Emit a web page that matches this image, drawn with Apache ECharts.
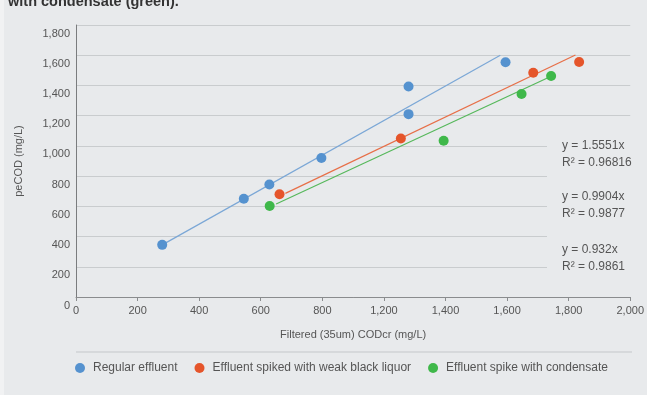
<!DOCTYPE html>
<html>
<head>
<meta charset="utf-8">
<script src="https://cdn.jsdelivr.net/npm/echarts@6/dist/echarts.min.js"></script>
<style>
html,body{margin:0;padding:0;background:#e8eaec;}
#c{width:647px;height:395px;}
</style>
</head>
<body>
<div id="c"></div>
<script>
// Tick labels as printed on the reference (note: the x axis skips "1,000")
const xTickLabels = ['0','200','400','600','800','1,200','1,400','1,600','1,800','2,000'];
const yTickLabels = ['0','200','400','600','800','1,000','1,200','1,400','1,600','1,800'];

const seriesNames = ['Regular effluent','Effluent spiked with weak black liquor','Effluent spike with condensate'];

// [x, y] points
const regularEffluent = [[280,345],[545,650],[628,745],[797,920],[1080,1210],[1080,1393],[1395,1553]];
const weakBlackLiquor = [[661,680],[1055,1049],[1485,1484],[1634,1555]];
const condensate = [[629,602],[1194,1034],[1447,1343],[1543,1463]];

// trendline end points
const regularTrend = [[280,345],[1378,1600]];
const liquorTrend = [[680,686],[1622,1601]];
const condensateTrend = [[650,615],[1545,1462]];

const trendLabels = [
  ['y = 1.5551x','R² = 0.96816'],
  ['y = 0.9904x','R² = 0.9877'],
  ['y = 0.932x','R² = 0.9861']
];
const headingText = 'with condensate (green).';

const pointColors = ['#5592cf','#e5552b','#3fb84a'];
const lineColors = ['#7ba7d6','#e76f48','#56b85b'];
const FONT = '"Liberation Sans", Arial, sans-serif';
const BG = '#e8eaec';

const chart = echarts.init(document.getElementById('c'), null, {renderer:'canvas'});

const scatterData = [regularEffluent, weakBlackLiquor, condensate];
const trendData = [regularTrend, liquorTrend, condensateTrend];

const series = [];
trendData.forEach((d,i)=>{
  series.push({
    type:'line', name: seriesNames[i]+' trend', data:d, symbol:'none', silent:true,
    lineStyle:{color:lineColors[i], width:1.2}, z:2, animation:false
  });
});
scatterData.forEach((d,i)=>{
  series.push({
    type:'scatter', name: seriesNames[i], data:d, symbol:'circle', symbolSize:10,
    itemStyle:{color:pointColors[i], opacity:1}, z:3, animation:false
  });
});

const trendTextY = [146, 197, 250];
const graphics = [
  {type:'rect', shape:{x:0, y:0, width:4, height:395}, style:{fill:'#f1f2f3'}, z:1},
  {type:'rect', shape:{x:547, y:126, width:100, height:158}, style:{fill:BG}, z:1},
  {type:'line', shape:{x1:76, y1:352, x2:632, y2:352}, style:{stroke:'#c4c7ca', lineWidth:1}},
  {type:'text', left:8, top:-6, style:{text:headingText, font:'bold 14.5px '+FONT, fill:'#333'}}
];
trendLabels.forEach((pair,i)=>{
  graphics.push({type:'text', x:562, y:trendTextY[i], z:5,
    style:{text:pair[0], font:'12px '+FONT, fill:'#555', verticalAlign:'middle'}});
  graphics.push({type:'text', x:562, y:trendTextY[i]+16.5, z:5,
    style:{text:pair[1], font:'12px '+FONT, fill:'#555', verticalAlign:'middle'}});
});

chart.setOption({
  backgroundColor: BG,
  animation:false,
  textStyle:{fontFamily:FONT},
  grid:{left:76, right:15, top:25, bottom:98, containLabel:false},
  legend:{
    data:seriesNames, left:70, top:357, icon:'circle', itemWidth:10, itemHeight:10, itemGap:17,
    textStyle:{fontSize:12, color:'#555', fontFamily:FONT, padding:[0,0,0,3]}
  },
  xAxis:{
    type:'value', min:0, max:1800, interval:200,
    name:'Filtered (35um) CODcr (mg/L)', nameLocation:'middle', nameGap:32,
    nameTextStyle:{fontSize:11, color:'#555', fontFamily:FONT},
    axisLine:{show:true, lineStyle:{color:'#8a8c8e', width:1}},
    axisTick:{show:true, length:4, lineStyle:{color:'#8a8c8e'}},
    axisLabel:{fontSize:11, color:'#555', margin:8, fontFamily:FONT,
      formatter:(v)=>xTickLabels[Math.round(v/200)]},
    splitLine:{show:false}
  },
  yAxis:{
    type:'value', min:0, max:1800, interval:200,
    name:'peCOD (mg/L)', nameLocation:'middle', nameGap:52,
    nameTextStyle:{fontSize:11, color:'#555', fontFamily:FONT},
    axisLine:{show:true, lineStyle:{color:'#7a7c7e', width:1}},
    axisTick:{show:false},
    axisLabel:{fontSize:11, color:'#555', margin:6, fontFamily:FONT, verticalAlign:'top', padding:[3,0,0,0],
      formatter:(v)=>yTickLabels[Math.round(v/200)]},
    splitLine:{show:true, lineStyle:{color:'#c9ccce', width:1.2}}
  },
  graphic: graphics,
  series: series
});
</script>
</body>
</html>
